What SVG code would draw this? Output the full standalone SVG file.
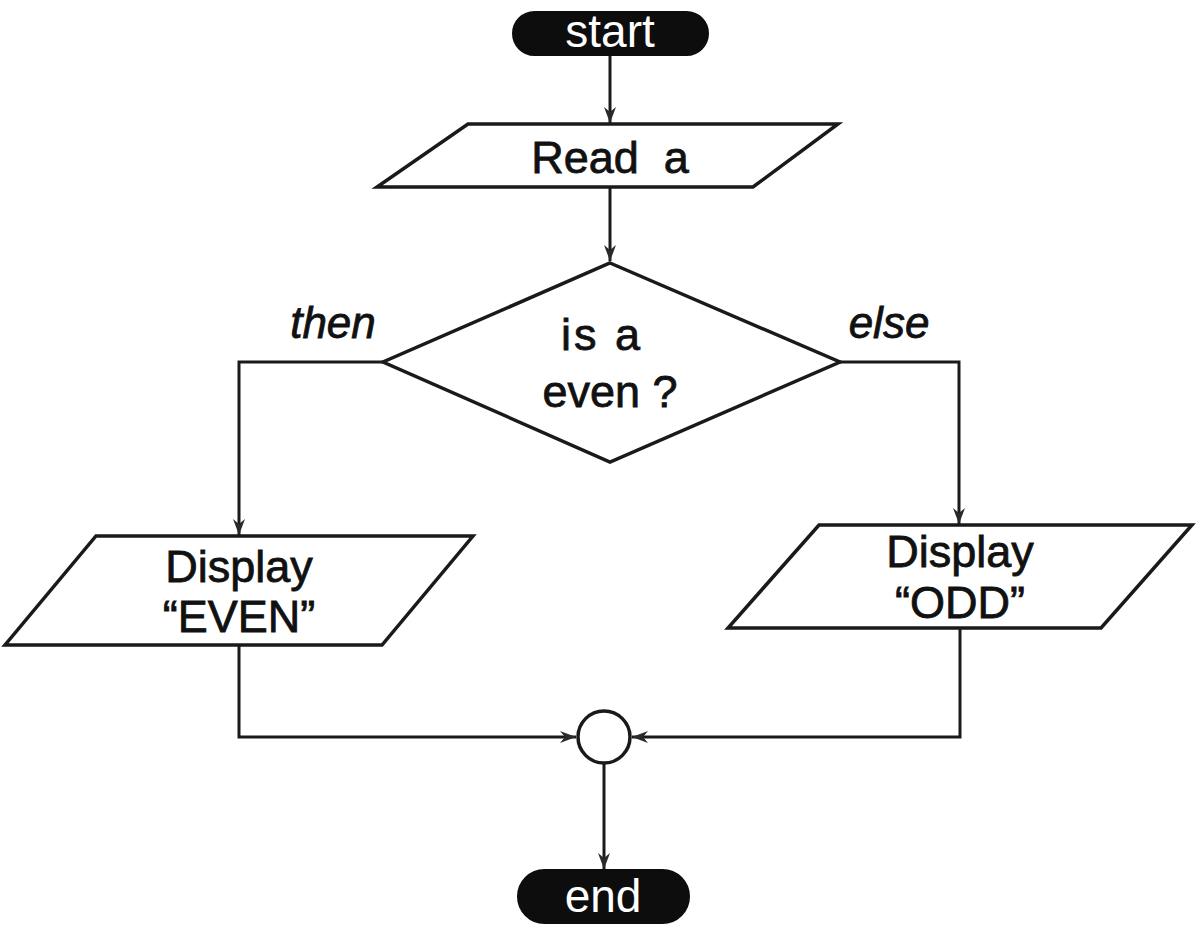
<svg xmlns="http://www.w3.org/2000/svg" width="1200" height="929" viewBox="0 0 1200 929">
<style>
.shape{fill:#fff;stroke:#1a1a1a;stroke-width:3.5;stroke-linejoin:miter}
.term{fill:#0d0d0d;stroke:#0d0d0d;stroke-width:2}
.t{font-family:"Liberation Sans",Arial,sans-serif;font-size:45px;fill:#111;stroke:#111;stroke-width:0.8;text-anchor:middle}
.tw{font-family:"Liberation Sans",Arial,sans-serif;font-size:46px;fill:#fff;text-anchor:middle}
.lbl{font-family:"Liberation Sans",Arial,sans-serif;font-size:44px;font-style:italic;fill:#111;stroke:#111;stroke-width:0.8;text-anchor:middle}
.edge{fill:none;stroke:#1a1a1a;stroke-width:3}
</style>
<defs>
<marker id="arr" viewBox="0 0 16 12" refX="16" refY="6" markerWidth="16" markerHeight="12" markerUnits="userSpaceOnUse" orient="auto">
<path d="M0,0 L16,6 L0,12 L5,6 Z" fill="#2a2a2a"/>
</marker>
</defs>
<rect width="1200" height="929" fill="#fff"/>
<g id="connectors">
<path class="edge" d="M610,55 L610,123" marker-end="url(#arr)"/>
<path class="edge" d="M610,188 L610,261" marker-end="url(#arr)"/>
<path class="edge" d="M383,362 L239,362 L239,535" marker-end="url(#arr)"/>
<path class="edge" d="M840,362 L959,362 L959,524" marker-end="url(#arr)"/>
<path class="edge" d="M239,646 L239,737 L576,737" marker-end="url(#arr)"/>
<path class="edge" d="M960,629 L960,737 L632,737" marker-end="url(#arr)"/>
<path class="edge" d="M604,764 L604,869" marker-end="url(#arr)"/>
</g>
<g id="start">
<rect class="term" x="513" y="12" width="195" height="43" rx="21.5"/>
<text class="tw" x="610" y="47">start</text>
</g>
<g id="read">
<polygon class="shape" points="468,124 838,124 753,187 377,187"/>
<text class="t" x="610" y="173" xml:space="preserve">Read  a</text>
</g>
<g id="decision">
<polygon class="shape" points="610,263 840,362 610,462 383,362"/>
<text class="t" x="602" y="350" letter-spacing="3">is a</text>
<text class="t" x="610" y="407">even ?</text>
</g>
<g id="labels">
<text class="lbl" x="333" y="338">then</text>
<text class="lbl" x="889" y="338">else</text>
</g>
<g id="even">
<polygon class="shape" points="96,536 473,536 382,645 5,645"/>
<text class="t" x="239" y="582">Display</text>
<text class="t" x="239" y="632">“EVEN”</text>
</g>
<g id="odd">
<polygon class="shape" points="819,525 1192,525 1101,628 728,628"/>
<text class="t" x="960" y="567">Display</text>
<text class="t" x="960" y="618">“ODD”</text>
</g>
<g id="join">
<circle class="shape" cx="604" cy="737" r="26"/>
</g>
<g id="end">
<rect class="term" x="518" y="870" width="171" height="53" rx="26.5"/>
<text class="tw" x="603" y="912">end</text>
</g>
</svg>
